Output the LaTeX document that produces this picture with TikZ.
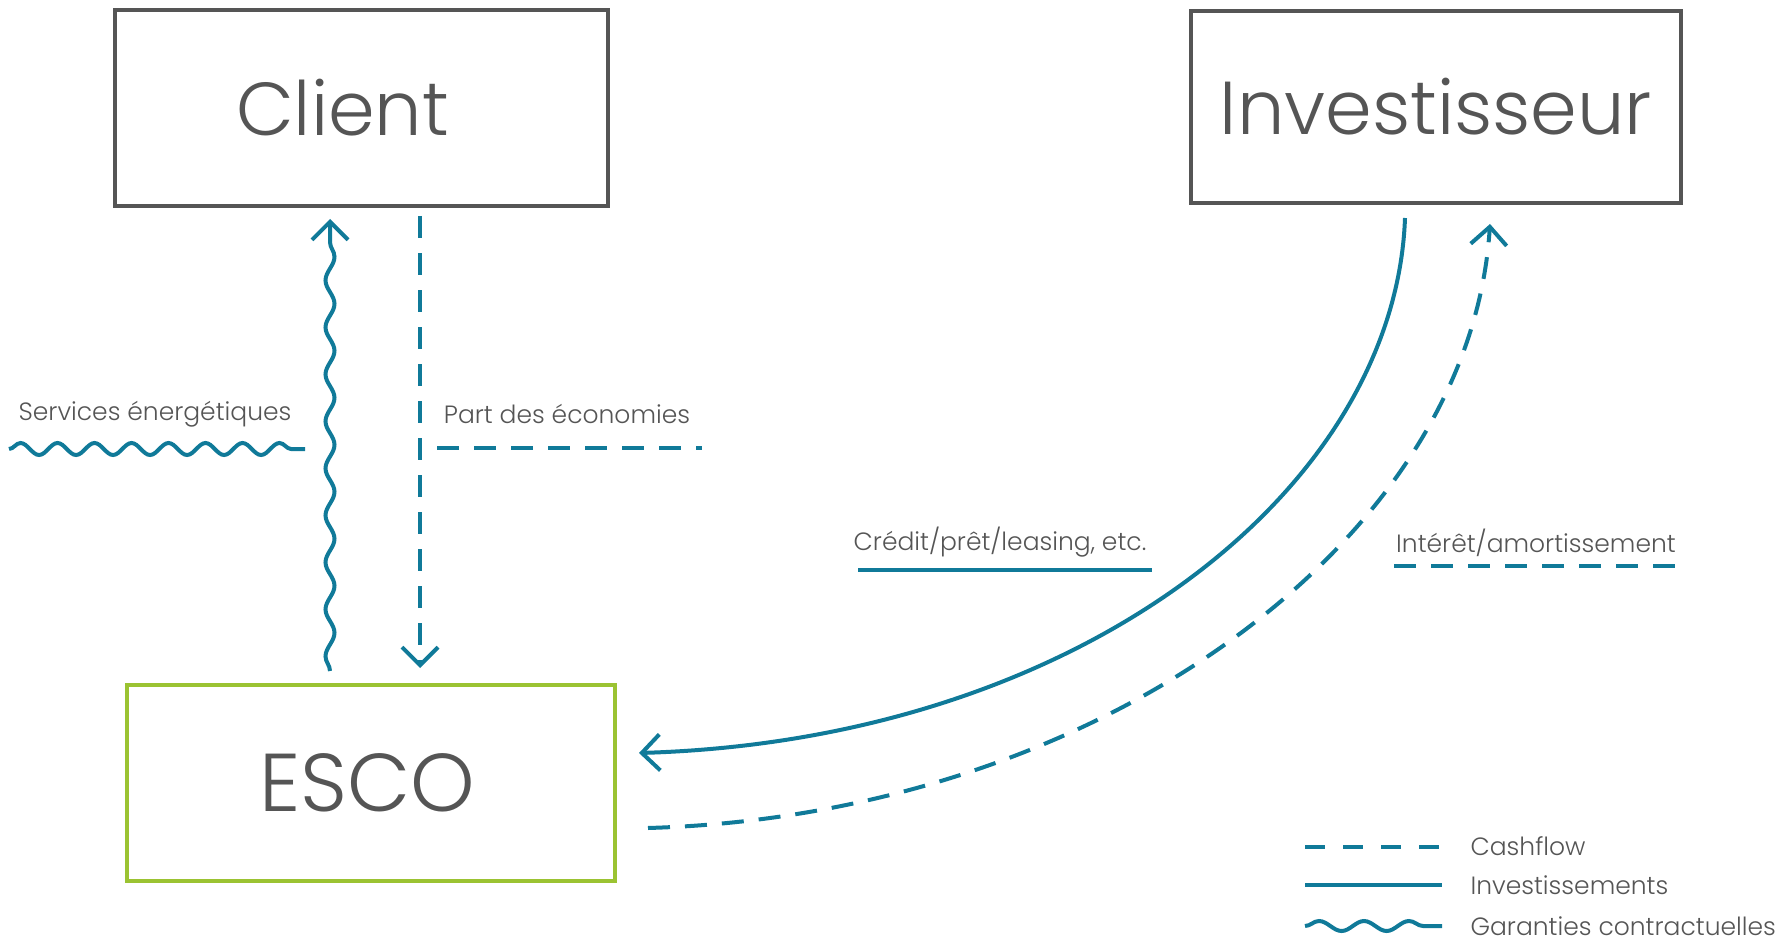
\documentclass[tikz,border=0pt]{standalone}
\usepackage{fontspec}
\setmainfont{Poppins}[UprightFont=* Light]
\usetikzlibrary{arrows.meta,decorations.pathmorphing,calc}

\definecolor{flowblue}{RGB}{16,122,153}
\definecolor{boxgray}{RGB}{85,85,85}
\definecolor{escogreen}{RGB}{155,195,50}

\tikzset{
  party/.style={draw=boxgray, line width=4pt, text=boxgray, inner sep=0pt,
    font=\fontsize{75}{78}\selectfont},
  cash/.style={draw=flowblue, line width=4pt, dash pattern=on 22pt off 15pt},
  invest/.style={draw=flowblue, line width=4pt},
  wavy/.style={draw=flowblue, line width=4pt, decorate,
    decoration={snake, segment length=#1, amplitude=4.5pt}},
  wavy/.default=47pt,
  lbl/.style={text=boxgray, font=\fontsize{25}{27}\selectfont},
  tip/.style={-{Straight Barb[length=18pt,width=36pt]}}
}

\begin{document}
\begin{tikzpicture}[x=1pt,y=-1pt]
\useasboundingbox (0,0) rectangle (1783,944);

% the three parties
\node[party, minimum width=493pt, minimum height=196pt] (client) at (361.5,108) {\hspace*{-38pt}Client};
\node[party, minimum width=490pt, minimum height=192pt] (investor) at (1436,107) {Investisseur};
\node[party, draw=escogreen, minimum width=488pt, minimum height=196pt,
  font=\fontsize{82}{84}\selectfont] (esco) at (371,783) {\hspace*{-8pt}ESCO};

% client <-> esco
\draw[wavy, tip, decoration={post length=18pt}] ($(esco.north west)+(205,-12)$) -- ($(client.south west)+(217,11)$);
\draw[cash, tip] ($(client.south west)+(307,8)$) -- ($(esco.north west)+(295,-15)$);

% investor <-> esco
\draw[invest, tip] ($(investor.south)+(-31,13)$) .. controls (1395,490) and (1080,740) .. ($(esco.east)+(22,-30)$);
\draw[cash, tip] ($(esco.east)+(31,45)$) .. controls (1100,815) and (1470,540) .. ($(investor.south)+(54,19)$);

% labels
\node[lbl] (lblserv) at (155,414) {Services énergétiques};
\draw[wavy=37pt, decoration={amplitude=6pt}] ($(lblserv.center)+(-146,35)$) -- ($(lblserv.center)+(150,35)$);
\node[lbl] (lblpart) at (567,414) {Part des économies};
\draw[cash] ($(lblpart.center)+(-130,34)$) -- ($(lblpart.center)+(135,34)$);
\node[lbl] (lblcredit) at (1000,542) {Crédit/prêt/leasing, etc.};
\draw[invest] ($(lblcredit.center)+(-142,28)$) -- ($(lblcredit.center)+(152,28)$);
\node[lbl] (lblinteret) at (1536,543) {Intérêt/amortissement};
\draw[cash] ($(lblinteret.center)+(-142,23)$) -- ($(lblinteret.center)+(147,23)$);

% legend
\node[lbl, anchor=west] (legcash) at (1467,846) {Cashflow};
\node[lbl, anchor=west] (leginvest) at (1467,885) {Investissements};
\node[lbl, anchor=west] (legwave) at (1467,926) {Garanties contractuelles};
\draw[cash, dash pattern=on 20pt off 18pt] ($(legcash.west)+(-162,1)$) -- ($(legcash.west)+(-25,1)$);
\draw[invest] ($(leginvest.west)+(-162,0)$) -- ($(leginvest.west)+(-25,0)$);
\draw[wavy=45pt, decoration={amplitude=5pt}] ($(legwave.west)+(-162,0)$) -- ($(legwave.west)+(-25,0)$);
\end{tikzpicture}
\end{document}
